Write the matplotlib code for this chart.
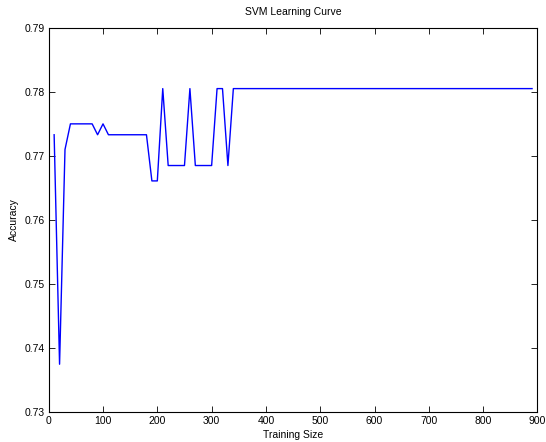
import matplotlib
matplotlib.use("Agg")
import matplotlib.pyplot as plt

train_size = list(range(10, 900, 10))
accuracy = (
    [0.7733, 0.7375, 0.7710, 0.7750, 0.7750, 0.7750, 0.7750, 0.7750, 0.7733, 0.7750]
    + [0.7733, 0.7733, 0.7733, 0.7733, 0.7733, 0.7733, 0.7733, 0.7733]
    + [0.7661, 0.7661]
    + [0.7805]
    + [0.7685, 0.7685, 0.7685, 0.7685]
    + [0.7805]
    + [0.7685, 0.7685, 0.7685, 0.7685]
    + [0.7805, 0.7805]
    + [0.7685]
    + [0.7805] * 56
)
x_ticks = [0, 100, 200, 300, 400, 500, 600, 700, 800, 900]
y_ticks = [0.73, 0.74, 0.75, 0.76, 0.77, 0.78, 0.79]

plt.rcParams['font.family'] = ['Liberation Sans', 'DejaVu Sans']

fig = plt.figure(figsize=(5.46, 4.42), dpi=100)
ax = fig.add_axes([0.0892, 0.0672, 0.8952, 0.8701])
ax.plot(train_size, accuracy, color=(0, 0, 1), linewidth=1.0)
ax.set_xlim(0, 900)
ax.set_ylim(0.73, 0.79)
ax.set_xticks(x_ticks)
ax.set_yticks(y_ticks)
ax.set_xticklabels([str(v) for v in x_ticks])
ax.set_yticklabels([f"{v:.2f}" for v in y_ticks])
ax.tick_params(direction='in', length=4, width=0.6, top=True, right=True,
               labelsize=7.5, pad=3, colors='black')
for s in ax.spines.values():
    s.set_linewidth(0.8)
ax.set_title("SVM Learning Curve", fontsize=7.5, pad=9)
ax.set_xlabel("Training Size", fontsize=7.5, labelpad=2.5)
ax.set_ylabel("Accuracy", fontsize=7.5, labelpad=4)
fig.savefig("out.png", dpi=100)
